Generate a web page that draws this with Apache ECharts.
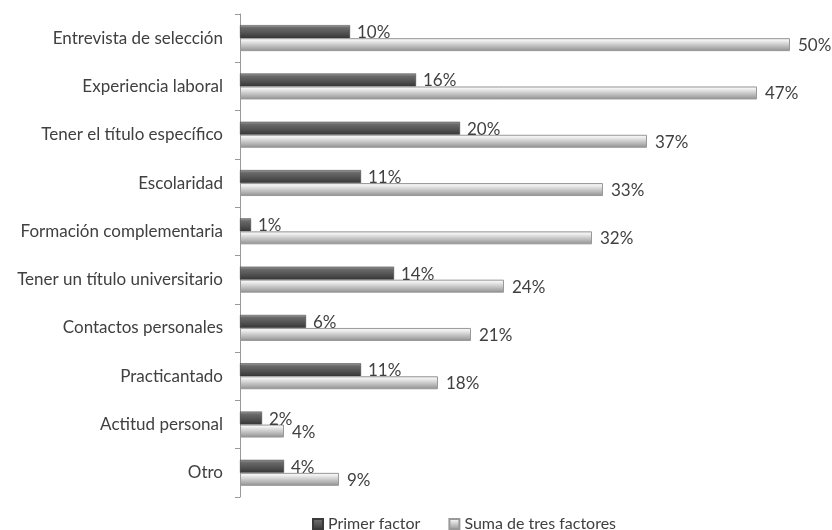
<!DOCTYPE html>
<html><head><meta charset="utf-8">
<script src="https://cdn.jsdelivr.net/npm/echarts@6/dist/echarts.min.js"></script>
<style>html,body{margin:0;padding:0;background:#fff}#c{width:832px;height:530px}</style>
</head><body><div id="c"></div>
<script>
var categories = ["Entrevista de selección","Experiencia laboral","Tener el título específico","Escolaridad","Formación complementaria","Tener un título universitario","Contactos personales","Practicantado","Actitud personal","Otro"];
var primerFactor = [10,16,20,11,1,14,6,11,2,4];
var sumaTres = [50,47,37,33,32,24,21,18,4,9];
var seriesNames = ["Primer factor","Suma de tres factores"];

var font = "Lato";
var darkGrad = new echarts.graphic.LinearGradient(0,0,0,1,[
  {offset:0,color:'#a0a0a0'},{offset:0.2,color:'#6a6a6a'},{offset:0.6,color:'#525252'},{offset:1,color:'#363636'}]);
var lightGrad = new echarts.graphic.LinearGradient(0,0,0,1,[
  {offset:0,color:'#e2e2e2'},{offset:0.15,color:'#f4f4f4'},{offset:0.5,color:'#cbcbcb'},{offset:0.85,color:'#a2a2a2'},{offset:1,color:'#888'}]);

var chart = echarts.init(document.getElementById('c'), null, {renderer:'canvas'});
chart.setOption({
  animation:false,
  grid:{left:240,right:42,top:14,bottom:33,containLabel:false},
  legend:{
    left:307, top:511, itemWidth:10, itemHeight:10, itemGap:28,
    textStyle:{fontFamily:font,fontSize:16,color:'#404040'},
    data:[{name:seriesNames[0],icon:'rect'},{name:seriesNames[1],icon:'rect'}]
  },
  xAxis:{type:'value',min:0,max:50,show:false},
  yAxis:{
    type:'category',data:categories,inverse:true,
    axisLine:{lineStyle:{color:'#999',width:1}},
    axisTick:{show:true,length:5,lineStyle:{color:'#999'}},
    axisLabel:{fontFamily:font,fontSize:17,color:'#404040',margin:17}
  },
  series:[
    {name:seriesNames[0],type:'bar',data:primerFactor,barWidth:13,barGap:'0%',
     itemStyle:{color:darkGrad,borderColor:'#3a3a3a',borderWidth:0.5},
     label:{show:true,position:'right',distance:7,offset:[0,1],formatter:'{c}%',fontFamily:font,fontSize:17,color:'#404040'}},
    {name:seriesNames[1],type:'bar',data:sumaTres,barWidth:13,barGap:'0%',
     itemStyle:{color:lightGrad,borderColor:'#999',borderWidth:1},
     label:{show:true,position:'right',distance:8,offset:[0,1],formatter:'{c}%',fontFamily:font,fontSize:17,color:'#404040'}}
  ]
});
</script></body></html>
